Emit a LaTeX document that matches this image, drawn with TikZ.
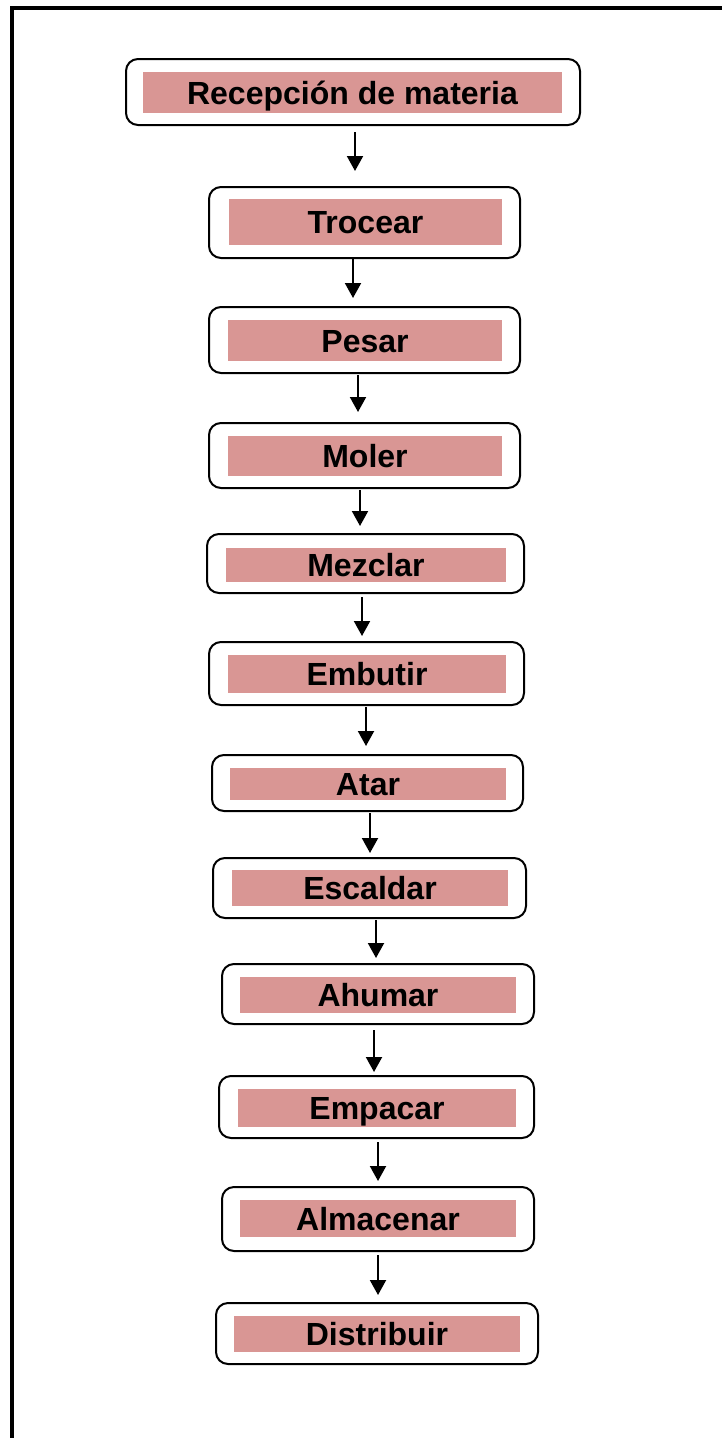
\documentclass[tikz,border=0pt]{standalone}
\usepackage{fontspec}
\setmainfont{Liberation Sans}
\usetikzlibrary{arrows.meta}
\definecolor{stepfill}{HTML}{D99694}
\begin{document}
\begin{tikzpicture}[x=1pt,y=-1pt,
  outerbox/.style={draw=black,line width=2pt,rounded corners=12pt,fill=white,inner sep=0pt},
  pinkbox/.style={fill=stepfill,draw=none,inner sep=0pt,text height=23pt,text depth=0pt,
    font=\fontsize{32}{32}\selectfont\bfseries},
  arr/.style={line width=2pt,-{Triangle[width=16pt,length=15pt]}},
  frameline/.style={line width=4.5pt}]
\useasboundingbox (0,0) rectangle (722,1438);
% frame
\coordinate (fb) at (12,1440);
\coordinate (fc) at (12,8);
\coordinate (fr) at (724,8);
\draw[frameline] (fb) -- (fc) -- (fr);
% boxes
\node[outerbox,minimum width=454pt,minimum height=66pt] (b1) at (353,92) {};
\node[pinkbox,minimum width=419pt,minimum height=41pt] (p1) at (352.5,92.5) {Recepción de materia};
\node[outerbox,minimum width=311pt,minimum height=71pt] (b2) at (364.5,222.5) {};
\node[pinkbox,minimum width=273pt,minimum height=46pt] (p2) at (365.5,222) {Trocear};
\node[outerbox,minimum width=311pt,minimum height=66pt] (b3) at (364.5,340) {};
\node[pinkbox,minimum width=274pt,minimum height=41pt] (p3) at (365,340.5) {Pesar};
\node[outerbox,minimum width=311pt,minimum height=65pt] (b4) at (364.5,455.5) {};
\node[pinkbox,minimum width=274pt,minimum height=40pt] (p4) at (365,456) {Moler};
\node[outerbox,minimum width=317pt,minimum height=59pt] (b5) at (365.5,563.5) {};
\node[pinkbox,minimum width=280pt,minimum height=34pt] (p5) at (366,565) {Mezclar};
\node[outerbox,minimum width=315pt,minimum height=63pt] (b6) at (366.5,673.5) {};
\node[pinkbox,minimum width=278pt,minimum height=38pt] (p6) at (367,674) {Embutir};
\node[outerbox,minimum width=311pt,minimum height=56pt] (b7) at (367.5,783) {};
\node[pinkbox,minimum width=276pt,minimum height=32pt] (p7) at (368,784) {Atar};
\node[outerbox,minimum width=313pt,minimum height=60pt] (b8) at (369.5,888) {};
\node[pinkbox,minimum width=276pt,minimum height=36pt] (p8) at (370,888) {Escaldar};
\node[outerbox,minimum width=312pt,minimum height=60pt] (b9) at (378,994) {};
\node[pinkbox,minimum width=276pt,minimum height=36pt] (p9) at (378,995) {Ahumar};
\node[outerbox,minimum width=315pt,minimum height=62pt] (b10) at (376.5,1107) {};
\node[pinkbox,minimum width=278pt,minimum height=38pt] (p10) at (377,1108) {Empacar};
\node[outerbox,minimum width=312pt,minimum height=64pt] (b11) at (378,1219) {};
\node[pinkbox,minimum width=276pt,minimum height=37pt] (p11) at (378,1218.5) {Almacenar};
\node[outerbox,minimum width=322pt,minimum height=61pt] (b12) at (377,1333.5) {};
\node[pinkbox,minimum width=286pt,minimum height=36pt] (p12) at (377,1334) {Distribuir};
% arrows
\coordinate (s1) at (355,132);  \coordinate (e1) at (355,171);
\coordinate (s2) at (353,259);  \coordinate (e2) at (353,298);
\coordinate (s3) at (358,375);  \coordinate (e3) at (358,412);
\coordinate (s4) at (360,490);  \coordinate (e4) at (360,526);
\coordinate (s5) at (362,597);  \coordinate (e5) at (362,636);
\coordinate (s6) at (366,707);  \coordinate (e6) at (366,746);
\coordinate (s7) at (370,813);  \coordinate (e7) at (370,853);
\coordinate (s8) at (376,920);  \coordinate (e8) at (376,958);
\coordinate (s9) at (374,1030); \coordinate (e9) at (374,1072);
\coordinate (s10) at (378,1142); \coordinate (e10) at (378,1181);
\coordinate (s11) at (378,1255); \coordinate (e11) at (378,1295);
\foreach \i in {1,...,11} {\draw[arr] (s\i) -- (e\i);}
\end{tikzpicture}
\end{document}
